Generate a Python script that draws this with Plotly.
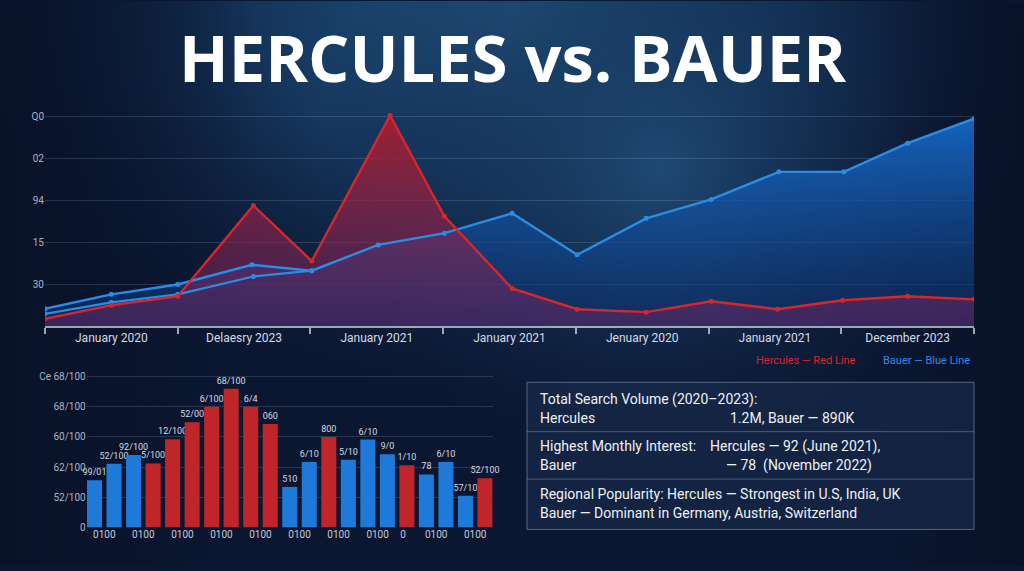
import base64
import plotly.graph_objects as go

# ---------------- data ----------------
title_text = "HERCULES vs. BAUER"

# top line chart (x measured in tick-interval units)
red_x = [0, 0.5, 1.0, 1.57, 2.01, 2.6, 3.01, 3.52, 4.01, 4.53, 5.02, 5.52, 6.01, 6.5, 7.0]
red_y = [3.4, 9.9, 14.2, 57.5, 31, 100.5, 52.4, 17.9, 8, 6.6, 11.8, 8, 12.3, 14.2, 12.7]
blue_x = [0, 0.5, 1.0, 1.56, 2.01, 2.51, 3.01, 3.52, 4.01, 4.53, 5.02, 5.53, 6.02, 6.5, 7.0]
blue_y = [8.2, 15.1, 19.8, 29.2, 26.4, 38.7, 44.3, 53.8, 34, 51.4, 60.4, 73.6, 73.6, 87.3, 99]
blue2_x = [0, 0.5, 1.0, 1.57, 2.01]
blue2_y = [5.8, 11.3, 15.1, 23.6, 26.4]

top_tick_pos = [0.5, 1.5, 2.5, 3.5, 4.5, 5.5, 6.5]
top_tick_text = ["January 2020", "Delaesry 2023", "January 2021", "January 2021",
                 "Jenuary 2020", "January 2021", "December 2023"]
top_bound_ticks = [0, 1, 2, 3, 4, 5, 6, 7]
top_y_ticks = [20, 40, 60, 80, 100]
top_y_text = ["30", "15", "94", "02", "Q0"]

# bottom bar chart
bar_vals = [31.2, 42.2, 48, 42.4, 58.4, 69.7, 79.9, 91.8, 79.9, 68.4, 26.8,
            43.3, 59.9, 44.8, 58.2, 48.5, 41.1, 35.1, 43.3, 21, 32.5]
bar_brand = ["B", "B", "B", "R", "R", "R", "R", "R", "R", "R", "B",
             "B", "R", "B", "B", "B", "R", "B", "B", "B", "R"]
bar_labels = ["99/01", "52/100", "92/100", "5/100", "12/100", "52/00", "6/100", "68/100",
              "6/4", "060", "510", "6/10", "800", "5/10", "6/10", "9/0", "1/10", "78",
              "6/10", "57/10", "52/100"]
bar_tick_pos = [0.5, 2.5, 4.5, 6.5, 8.5, 10.5, 12.5, 14.5, 15.8, 17.5, 19.5]
bar_tick_text = ["0100"] * 8 + ["0"] + ["0100"] * 2
bar_y_ticks = [0, 20, 40, 60, 80, 100]
bar_y_text = ["0", "52/100", "62/100", "60/100", "68/100", "Ce 68/100"]

legend_red = "Hercules — Red Line"
legend_blue = "Bauer — Blue Line"

table_rows = [
    ("Total Search Volume (2020–2023):", "Hercules", "", "1.2M, Bauer — 890K"),
    ("Highest Monthly Interest:", "Bauer", "Hercules — 92 (June 2021),", "— 78  (November 2022)"),
    ("Regional Popularity: Hercules — Strongest in U.S, India, UK",
     "Bauer — Dominant in Germany, Austria, Switzerland", "", ""),
]

# ---------------- colours ----------------
RED = "#d8262b"
BLUE = "#2b8ce6"
BAR_RED = "#c0252a"
BAR_BLUE = "#1f79d8"
GRID = "rgba(200,215,235,0.16)"
TICK = "#a9b3c2"

W, H = 1024, 571


def px(x):
    return x / W


def py(y):
    return 1 - y / H


# ---------------- background (svg gradient) ----------------
svg = """<svg xmlns='http://www.w3.org/2000/svg' width='1024' height='571' viewBox='0 0 1024 571' preserveAspectRatio='none'>
<defs>
<radialGradient id='a' gradientUnits='userSpaceOnUse' cx='520' cy='10' r='560' gradientTransform='translate(520 10) scale(1 0.75) translate(-520 -10)'>
<stop offset='0' stop-color='#235684'/>
<stop offset='0.45' stop-color='#173c65' stop-opacity='0.85'/>
<stop offset='1' stop-color='#0b1833' stop-opacity='0'/>
</radialGradient>
<radialGradient id='b' gradientUnits='userSpaceOnUse' cx='660' cy='170' r='340'>
<stop offset='0' stop-color='#1f4a75' stop-opacity='0.95'/>
<stop offset='1' stop-color='#0b1833' stop-opacity='0'/>
</radialGradient>
<linearGradient id='c' x1='0' y1='0' x2='1' y2='0'>
<stop offset='0' stop-color='#060d20' stop-opacity='0.5'/>
<stop offset='0.25' stop-color='#060d20' stop-opacity='0'/>
<stop offset='0.85' stop-color='#060d20' stop-opacity='0'/>
<stop offset='1' stop-color='#060d20' stop-opacity='0.55'/>
</linearGradient>
</defs>
<rect width='1024' height='571' fill='#0b1731'/>
<rect width='1024' height='571' fill='url(#a)'/>
<rect width='1024' height='571' fill='url(#b)'/>
<rect width='1024' height='571' fill='url(#c)'/>
</svg>"""
bg_uri = "data:image/svg+xml;base64," + base64.b64encode(svg.encode()).decode()

fig = go.Figure()

# ---------------- top chart ----------------
fig.add_trace(go.Scatter(
    x=blue_x, y=blue_y, mode="none", fill="tozeroy", xaxis="x", yaxis="y",
    fillgradient=dict(type="vertical",
                      colorscale=[[0, "rgba(14,48,105,0.55)"], [1, "rgba(22,105,200,0.92)"]]),
    showlegend=False, hoverinfo="skip"))
fig.add_trace(go.Scatter(
    x=red_x, y=red_y, mode="none", fill="tozeroy", xaxis="x", yaxis="y",
    fillgradient=dict(type="vertical",
                      colorscale=[[0, "rgba(110,40,105,0.45)"], [1, "rgba(175,28,40,0.88)"]]),
    showlegend=False, hoverinfo="skip"))
fig.add_trace(go.Scatter(
    x=blue2_x, y=blue2_y, mode="lines+markers", xaxis="x", yaxis="y",
    line=dict(color=BLUE, width=2.2), marker=dict(size=5, color=BLUE),
    showlegend=False))
fig.add_trace(go.Scatter(
    x=blue_x, y=blue_y, mode="lines+markers", xaxis="x", yaxis="y",
    line=dict(color=BLUE, width=2.4), marker=dict(size=5, color=BLUE),
    showlegend=False))
fig.add_trace(go.Scatter(
    x=red_x, y=red_y, mode="lines+markers", xaxis="x", yaxis="y",
    line=dict(color=RED, width=2.4), marker=dict(size=5, color=RED),
    showlegend=False))

# ---------------- bottom bar chart ----------------
bar_colors = [BAR_RED if b == "R" else BAR_BLUE for b in bar_brand]
fig.add_trace(go.Bar(
    x=list(range(len(bar_vals))), y=bar_vals, xaxis="x2", yaxis="y2",
    marker=dict(color=bar_colors, line=dict(width=0)), width=0.77,
    text=bar_labels, textposition="outside", cliponaxis=False, constraintext="none",
    textfont=dict(family="Roboto", size=9, color="#d3d9e3"),
    showlegend=False))

fig.update_layout(
    width=W, height=H,
    margin=dict(l=0, r=0, t=0, b=0),
    paper_bgcolor="#0b1731",
    plot_bgcolor="rgba(0,0,0,0)",
    font=dict(family="Roboto", color=TICK),
    images=[dict(source=bg_uri, xref="paper", yref="paper", x=0, y=1, sizex=1, sizey=1,
                 xanchor="left", yanchor="top", sizing="stretch", layer="below")],
    xaxis=dict(domain=[px(45), px(974)], range=[0, 7], anchor="y",
               tickmode="array", tickvals=top_tick_pos, ticktext=top_tick_text,
               ticks="", showgrid=False, zeroline=False,
               showline=True, linecolor="rgba(205,215,230,0.75)", linewidth=1.5,
               tickfont=dict(size=12, color="#d5dbe5"),
               minor=dict(tickmode="array", tickvals=top_bound_ticks, ticks="outside",
                          ticklen=6, tickwidth=1.5, tickcolor="rgba(205,215,230,0.75)",
                          showgrid=False)),
    yaxis=dict(domain=[py(329), py(108.5)], range=[0, 104], anchor="x",
               tickmode="array", tickvals=top_y_ticks, ticktext=top_y_text,
               showgrid=True, gridcolor=GRID, gridwidth=1, zeroline=False,
               tickfont=dict(size=10, color=TICK), ticks="", showline=False),
    xaxis2=dict(domain=[px(86.7), px(492.8)], range=[-0.4, 20.4], anchor="y2",
                tickmode="array", tickvals=bar_tick_pos, ticktext=bar_tick_text,
                ticks="", showgrid=False, zeroline=False, showline=False,
                tickfont=dict(size=10, color="#c3cad6")),
    yaxis2=dict(domain=[py(533), py(375.4)], range=[0, 103], anchor="x2",
                tickmode="array", tickvals=bar_y_ticks, ticktext=bar_y_text,
                showgrid=True, gridcolor=GRID, zeroline=False, ticks="",
                tickfont=dict(size=10, color=TICK), showline=False),
    bargap=0.2,
)

annotations = [
    dict(text=f"<b>{title_text}</b>", x=0.5, y=py(57), xref="paper", yref="paper",
         xanchor="center", yanchor="middle", showarrow=False,
         font=dict(family="Open Sans", size=65, color="#ffffff")),
    dict(text=legend_red, x=px(858), y=py(364), xref="paper", yref="paper",
         xanchor="right", yanchor="middle", showarrow=False,
         font=dict(family="Roboto", size=11, color="#d8262b")),
    dict(text=legend_blue, x=px(972), y=py(364), xref="paper", yref="paper",
         xanchor="right", yanchor="middle", showarrow=False,
         font=dict(family="Roboto", size=11, color="#2f8ae8")),
]

# table box
shapes = [
    dict(type="rect", xref="paper", yref="paper", x0=px(527), x1=px(974), y0=py(535), y1=py(386),
         fillcolor="rgba(28,48,80,0.55)", line=dict(color="rgba(140,160,190,0.55)", width=1),
         layer="below"),
    dict(type="line", xref="paper", yref="paper", x0=px(527), x1=px(974), y0=py(436), y1=py(436),
         line=dict(color="rgba(140,160,190,0.45)", width=1)),
    dict(type="line", xref="paper", yref="paper", x0=px(527), x1=px(974), y0=py(484), y1=py(484),
         line=dict(color="rgba(140,160,190,0.45)", width=1)),
]

TF = dict(family="Roboto", size=14, color="#eef1f6")
row_y = [(403, 422), (451, 470), (499, 518)]
second_x = [728, 724, None]
extra_x = [None, 708, None]
for (l1, l2, extra, second), (y1, y2), sx, ex in zip(table_rows, row_y, second_x, extra_x):
    annotations.append(dict(text=l1, x=px(538), y=py(y1), xref="paper", yref="paper",
                            xanchor="left", yanchor="middle", showarrow=False, font=TF))
    annotations.append(dict(text=l2, x=px(538), y=py(y2), xref="paper", yref="paper",
                            xanchor="left", yanchor="middle", showarrow=False, font=TF))
    if extra:
        annotations.append(dict(text=extra, x=px(ex), y=py(y1), xref="paper", yref="paper",
                                xanchor="left", yanchor="middle", showarrow=False, font=TF))
    if second:
        annotations.append(dict(text=second, x=px(sx), y=py(y2), xref="paper", yref="paper",
                                xanchor="left", yanchor="middle", showarrow=False, font=TF))

fig.update_layout(annotations=annotations, shapes=shapes)

post = (
    "var h=document.documentElement,b=document.body;"
    "h.style.margin='0';h.style.padding='0';h.style.overflow='hidden';"
    "b.style.margin='0';b.style.padding='0';b.style.overflow='hidden';"
)
fig.write_html("out.html", config={"displayModeBar": False}, post_script=post)
